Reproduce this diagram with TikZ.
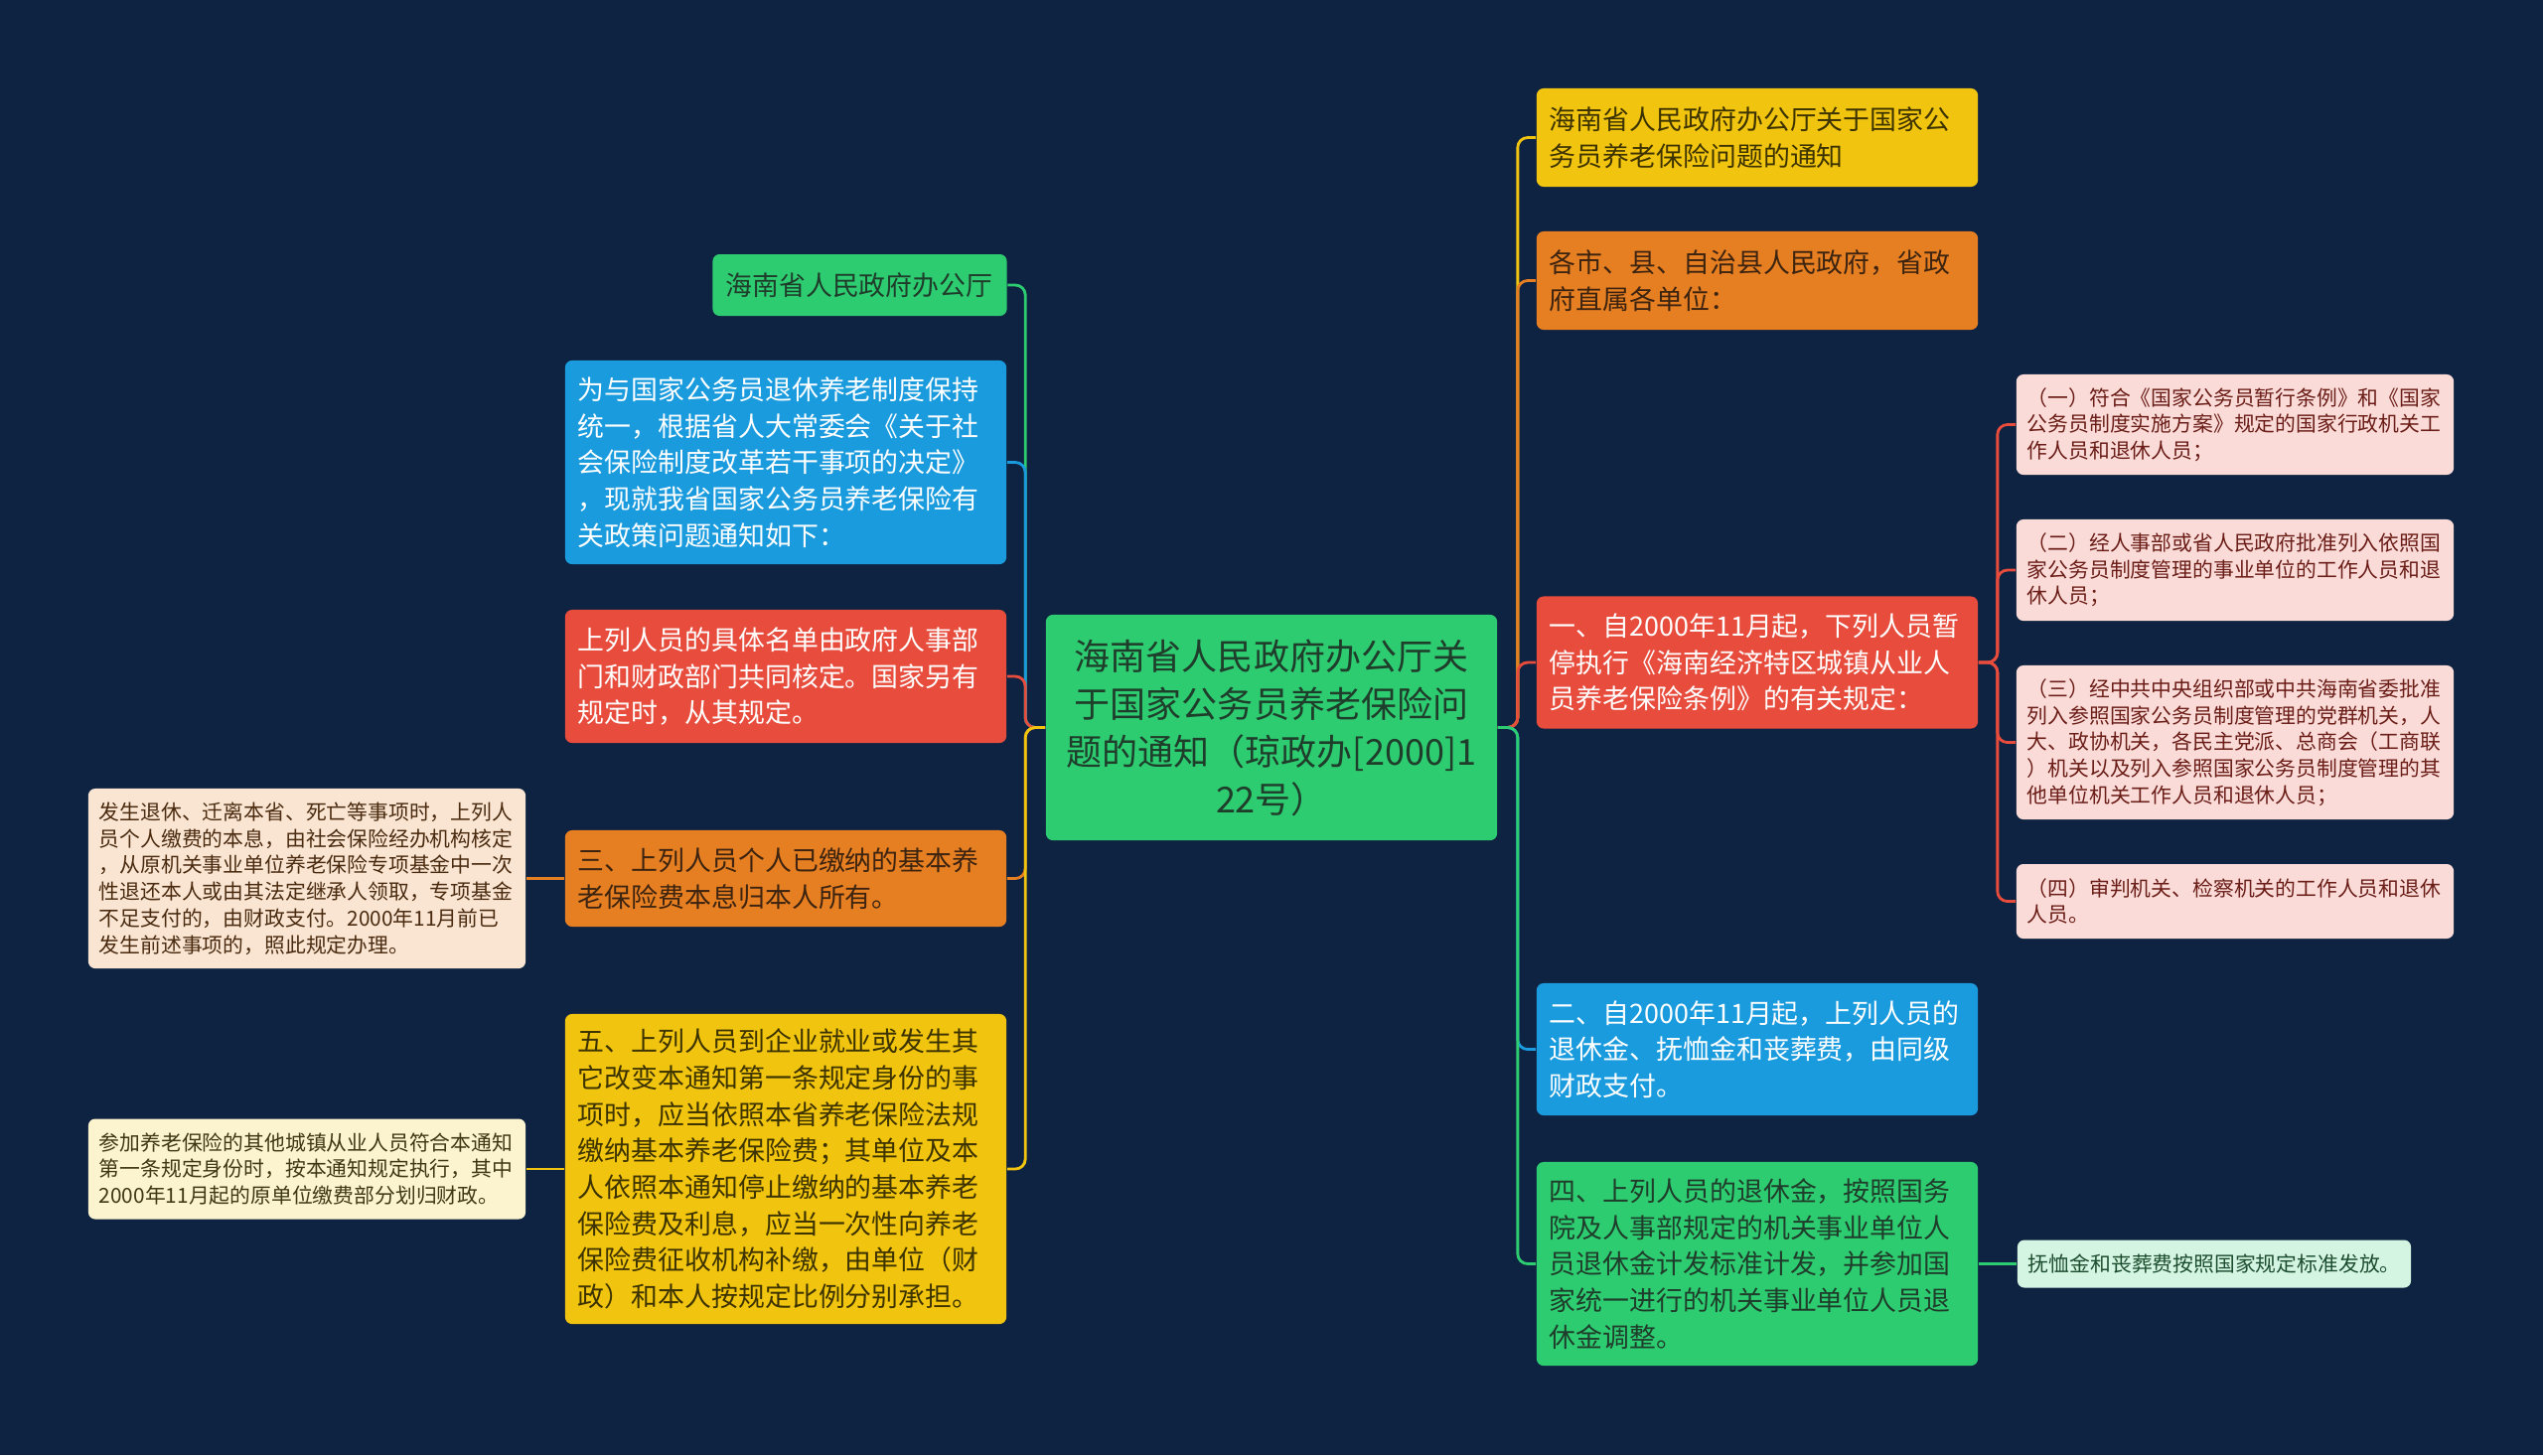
\documentclass[tikz,border=0pt]{standalone}
\usepackage{fontspec}
\setmainfont{Noto Sans CJK SC}
\usepackage{tikz}
\definecolor{bgnavy}{HTML}{0E2241}
\definecolor{mgreen}{HTML}{2ECC71}
\definecolor{mblue}{HTML}{199BDE}
\definecolor{mred}{HTML}{E74C3C}
\definecolor{morange}{HTML}{E67E22}
\definecolor{myellow}{HTML}{F1C40F}
\definecolor{rootink}{HTML}{1F3D2B}
\definecolor{orangeink}{HTML}{3D2410}
\definecolor{yellowink}{HTML}{3D3300}
\definecolor{pinkleaf}{HTML}{FADBD8}
\definecolor{pinkink}{HTML}{6B1D17}
\definecolor{peachleaf}{HTML}{FAE5D3}
\definecolor{peachink}{HTML}{4A2B0F}
\definecolor{creamleaf}{HTML}{FCF3CF}
\definecolor{creamink}{HTML}{3F3815}
\definecolor{mintleaf}{HTML}{D5F5E3}
\definecolor{mintink}{HTML}{1D4D2F}

\begin{document}
\begin{tikzpicture}[x=0.01cm, y=-0.01cm,
  rootbox/.style={fill=mgreen, text=rootink, rounded corners=0.7mm, text width=4.3cm, align=center, inner xsep=0.12cm, inner ysep=0.05cm, font=\fontsize{10.24}{13.66}\selectfont},
  subbox/.style={rounded corners=0.7mm, text width=4.18cm, align=left, inner xsep=0.13cm, inner ysep=0.05cm, font=\fontsize{7.65}{10.44}\selectfont},
  leafbox/.style={rounded corners=0.7mm, text width=4.18cm, align=left, inner xsep=0.11cm, inner ysep=0.05cm, font=\fontsize{5.92}{7.6}\selectfont},
  conn/.style={line width=0.8pt, rounded corners=1mm}]
\fill[bgnavy] (0,0) rectangle (2560,1465);
\useasboundingbox (0,0) rectangle (2560,1465);
\node[rootbox, minimum height=2.27cm] (root) at (1280,732.5) {海南省人民政府办公厅关\\于国家公务员养老保险问\\题的通知（琼政办[2000]1\\22号）};
% left side
\node[subbox, fill=mgreen, text=rootink, text width=2.7cm, minimum height=0.62cm] (left1) at (865.5,287) {海南省人民政府办公厅};
\node[subbox, fill=mblue, text=white, minimum height=2.05cm] (left2) at (791,465.5) {为与国家公务员退休养老制度保持\\统一，根据省人大常委会《关于社\\会保险制度改革若干事项的决定》\\，现就我省国家公务员养老保险有\\关政策问题通知如下：};
\node[subbox, fill=mred, text=white, minimum height=1.34cm] (left3) at (791,681) {上列人员的具体名单由政府人事部\\门和财政部门共同核定。国家另有\\规定时，从其规定。};
\node[subbox, fill=morange, text=orangeink, minimum height=0.97cm] (left4) at (791,884.5) {三、上列人员个人已缴纳的基本养\\老保险费本息归本人所有。};
\node[leafbox, fill=peachleaf, text=peachink, minimum height=1.81cm] (left4a) at (309,884.5) {发生退休、迁离本省、死亡等事项时，上列人\\员个人缴费的本息，由社会保险经办机构核定\\，从原机关事业单位养老保险专项基金中一次\\性退还本人或由其法定继承人领取，专项基金\\不足支付的，由财政支付。2000年11月前已\\发生前述事项的，照此规定办理。};
\node[subbox, fill=myellow, text=yellowink, minimum height=3.12cm] (left5) at (791,1177) {五、上列人员到企业就业或发生其\\它改变本通知第一条规定身份的事\\项时，应当依照本省养老保险法规\\缴纳基本养老保险费；其单位及本\\人依照本通知停止缴纳的基本养老\\保险费及利息，应当一次性向养老\\保险费征收机构补缴，由单位（财\\政）和本人按规定比例分别承担。};
\node[leafbox, fill=creamleaf, text=creamink, minimum height=1.01cm] (left5a) at (309,1177) {参加养老保险的其他城镇从业人员符合本通知\\第一条规定身份时，按本通知规定执行，其中\\2000年11月起的原单位缴费部分划归财政。};
% right side
\node[subbox, fill=myellow, text=yellowink, minimum height=0.99cm] (right1) at (1769,138.5) {海南省人民政府办公厅关于国家公\\务员养老保险问题的通知};
\node[subbox, fill=morange, text=orangeink, minimum height=0.99cm] (right2) at (1769,282.5) {各市、县、自治县人民政府，省政\\府直属各单位：};
\node[subbox, fill=mred, text=white, minimum height=1.33cm] (right3) at (1769,667) {一、自2000年11月起，下列人员暂\\停执行《海南经济特区城镇从业人\\员养老保险条例》的有关规定：};
\node[leafbox, fill=pinkleaf, text=pinkink, minimum height=1.01cm] (right3a) at (2250,427.5) {（一）符合《国家公务员暂行条例》和《国家\\公务员制度实施方案》规定的国家行政机关工\\作人员和退休人员；};
\node[leafbox, fill=pinkleaf, text=pinkink, minimum height=1.02cm] (right3b) at (2250,574) {（二）经人事部或省人民政府批准列入依照国\\家公务员制度管理的事业单位的工作人员和退\\休人员；};
\node[leafbox, fill=pinkleaf, text=pinkink, minimum height=1.55cm] (right3c) at (2250,747.5) {（三）经中共中央组织部或中共海南省委批准\\列入参照国家公务员制度管理的党群机关，人\\大、政协机关，各民主党派、总商会（工商联\\）机关以及列入参照国家公务员制度管理的其\\他单位机关工作人员和退休人员；};
\node[leafbox, fill=pinkleaf, text=pinkink, minimum height=0.75cm] (right3d) at (2250,907.5) {（四）审判机关、检察机关的工作人员和退休\\人员。};
\node[subbox, fill=mblue, text=white, minimum height=1.33cm] (right4) at (1769,1056.5) {二、自2000年11月起，上列人员的\\退休金、抚恤金和丧葬费，由同级\\财政支付。};
\node[subbox, fill=mgreen, text=rootink, minimum height=2.05cm] (right5) at (1769,1272.5) {四、上列人员的退休金，按照国务\\院及人事部规定的机关事业单位人\\员退休金计发标准计发，并参加国\\家统一进行的机关事业单位人员退\\休金调整。};
\node[leafbox, fill=mintleaf, text=mintink, text width=3.74cm, minimum height=0.48cm] (right5a) at (2229,1272.5) {抚恤金和丧葬费按照国家规定标准发放。};
% connectors
\draw[conn, mgreen] (root.west) -- ++(-20,0) |- (left1.east);
\draw[conn, mblue] (root.west) -- ++(-20,0) |- (left2.east);
\draw[conn, mred] (root.west) -- ++(-20,0) |- (left3.east);
\draw[conn, morange] (root.west) -- ++(-20,0) |- (left4.east);
\draw[conn, myellow] (root.west) -- ++(-20,0) |- (left5.east);
\draw[conn, morange] (left4.west) -- (left4a.east);
\draw[conn, myellow] (left5.west) -- (left5a.east);
\draw[conn, myellow] (root.east) -- ++(20,0) |- (right1.west);
\draw[conn, morange] (root.east) -- ++(20,0) |- (right2.west);
\draw[conn, mred] (root.east) -- ++(20,0) |- (right3.west);
\draw[conn, mblue] (root.east) -- ++(20,0) |- (right4.west);
\draw[conn, mgreen] (root.east) -- ++(20,0) |- (right5.west);
\draw[conn, mred] (right3.east) -- ++(19,0) |- (right3a.west);
\draw[conn, mred] (right3.east) -- ++(19,0) |- (right3b.west);
\draw[conn, mred] (right3.east) -- ++(19,0) |- (right3c.west);
\draw[conn, mred] (right3.east) -- ++(19,0) |- (right3d.west);
\draw[conn, mgreen] (right5.east) -- (right5a.west);
\end{tikzpicture}
\end{document}
